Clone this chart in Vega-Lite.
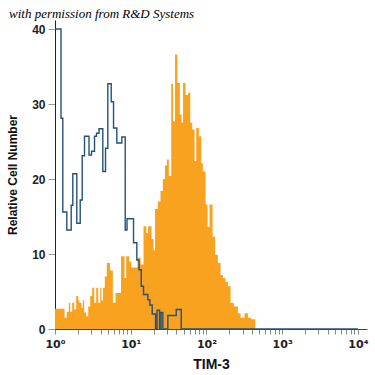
{
  "$schema": "https://vega.github.io/schema/vega-lite/v6.json",
  "width": 312,
  "height": 309,
  "autosize": {"type": "none"},
  "padding": {"left": 55, "top": 20, "right": 8, "bottom": 46},
  "title": {
    "text": "with permission from R&D Systems",
    "anchor": "start",
    "frame": "group",
    "dx": -46,
    "dy": 3,
    "offset": 2,
    "font": "Liberation Serif",
    "fontStyle": "italic",
    "fontWeight": "normal",
    "fontSize": 13,
    "color": "#000"
  },
  "config": {
    "view": {"stroke": null},
    "font": "Liberation Sans"
  },
  "datasets": {
    "tim3": [
      {"log_intensity": 0.0, "count": 2.7},
      {"log_intensity": 0.1255, "count": 1.5},
      {"log_intensity": 0.1559, "count": 2.3},
      {"log_intensity": 0.1823, "count": 3.5},
      {"log_intensity": 0.2008, "count": 2.3},
      {"log_intensity": 0.2272, "count": 3.5},
      {"log_intensity": 0.2536, "count": 2.6},
      {"log_intensity": 0.2801, "count": 4.4},
      {"log_intensity": 0.3065, "count": 3.8},
      {"log_intensity": 0.3236, "count": 3.5},
      {"log_intensity": 0.3501, "count": 2.8},
      {"log_intensity": 0.3672, "count": 3.8},
      {"log_intensity": 0.3857, "count": 2.2},
      {"log_intensity": 0.4122, "count": 1.7},
      {"log_intensity": 0.4386, "count": 3.0},
      {"log_intensity": 0.4650, "count": 4.4},
      {"log_intensity": 0.4914, "count": 5.5},
      {"log_intensity": 0.5178, "count": 3.5},
      {"log_intensity": 0.5443, "count": 5.5},
      {"log_intensity": 0.5707, "count": 3.5},
      {"log_intensity": 0.5971, "count": 5.5},
      {"log_intensity": 0.6143, "count": 3.8},
      {"log_intensity": 0.6341, "count": 5.5},
      {"log_intensity": 0.6579, "count": 7.0},
      {"log_intensity": 0.6843, "count": 8.8},
      {"log_intensity": 0.7266, "count": 7.8},
      {"log_intensity": 0.7636, "count": 3.5},
      {"log_intensity": 0.7992, "count": 4.8},
      {"log_intensity": 0.8719, "count": 9.7},
      {"log_intensity": 0.9181, "count": 6.8},
      {"log_intensity": 0.9406, "count": 9.7},
      {"log_intensity": 0.9776, "count": 9.0},
      {"log_intensity": 1.0040, "count": 8.2},
      {"log_intensity": 1.0898, "count": 9.5},
      {"log_intensity": 1.1295, "count": 8.6},
      {"log_intensity": 1.1691, "count": 13.7},
      {"log_intensity": 1.2048, "count": 12.8},
      {"log_intensity": 1.2285, "count": 13.7},
      {"log_intensity": 1.2748, "count": 12.0},
      {"log_intensity": 1.3012, "count": 10.5},
      {"log_intensity": 1.3210, "count": 16.0},
      {"log_intensity": 1.3580, "count": 17.0},
      {"log_intensity": 1.3937, "count": 18.4},
      {"log_intensity": 1.4241, "count": 20.0},
      {"log_intensity": 1.4531, "count": 21.8},
      {"log_intensity": 1.4769, "count": 22.6},
      {"log_intensity": 1.5033, "count": 20.4},
      {"log_intensity": 1.5350, "count": 32.7},
      {"log_intensity": 1.5588, "count": 27.7},
      {"log_intensity": 1.5852, "count": 36.6},
      {"log_intensity": 1.6156, "count": 32.8},
      {"log_intensity": 1.6486, "count": 28.6},
      {"log_intensity": 1.6711, "count": 27.5},
      {"log_intensity": 1.6909, "count": 32.8},
      {"log_intensity": 1.7239, "count": 31.2},
      {"log_intensity": 1.7569, "count": 31.5},
      {"log_intensity": 1.7860, "count": 27.5},
      {"log_intensity": 1.8124, "count": 26.6},
      {"log_intensity": 1.8428, "count": 22.4},
      {"log_intensity": 1.8653, "count": 26.8},
      {"log_intensity": 1.8996, "count": 25.7},
      {"log_intensity": 1.9313, "count": 22.1},
      {"log_intensity": 1.9524, "count": 21.0},
      {"log_intensity": 1.9881, "count": 16.6},
      {"log_intensity": 2.0145, "count": 13.6},
      {"log_intensity": 2.0409, "count": 16.6},
      {"log_intensity": 2.0806, "count": 12.3},
      {"log_intensity": 2.1136, "count": 9.9},
      {"log_intensity": 2.1506, "count": 8.8},
      {"log_intensity": 2.1863, "count": 7.2},
      {"log_intensity": 2.2166, "count": 6.8},
      {"log_intensity": 2.2484, "count": 6.3},
      {"log_intensity": 2.2827, "count": 5.7},
      {"log_intensity": 2.3184, "count": 3.5},
      {"log_intensity": 2.3620, "count": 3.0},
      {"log_intensity": 2.4148, "count": 2.1},
      {"log_intensity": 2.4505, "count": 1.5},
      {"log_intensity": 2.5033, "count": 2.1},
      {"log_intensity": 2.5469, "count": 1.5},
      {"log_intensity": 2.5918, "count": 1.3},
      {"log_intensity": 2.6446, "count": 0}
    ],
    "isotype": [
      {"log_intensity": 0.0, "count": 40},
      {"log_intensity": 0.0793, "count": 28.1},
      {"log_intensity": 0.1030, "count": 15.6},
      {"log_intensity": 0.1559, "count": 13.2},
      {"log_intensity": 0.2140, "count": 16.5},
      {"log_intensity": 0.2351, "count": 20.7},
      {"log_intensity": 0.2880, "count": 14.1},
      {"log_intensity": 0.3329, "count": 17.2},
      {"log_intensity": 0.3593, "count": 23.1},
      {"log_intensity": 0.3897, "count": 25.7},
      {"log_intensity": 0.4491, "count": 23.2},
      {"log_intensity": 0.4822, "count": 23.7},
      {"log_intensity": 0.5218, "count": 25.7},
      {"log_intensity": 0.5482, "count": 26.1},
      {"log_intensity": 0.5812, "count": 26.7},
      {"log_intensity": 0.6314, "count": 21.0},
      {"log_intensity": 0.6671, "count": 24.1},
      {"log_intensity": 0.6975, "count": 32.7},
      {"log_intensity": 0.7424, "count": 30.3},
      {"log_intensity": 0.7728, "count": 26.8},
      {"log_intensity": 0.8164, "count": 24.8},
      {"log_intensity": 0.8824, "count": 25.6},
      {"log_intensity": 0.9273, "count": 13.2},
      {"log_intensity": 0.9511, "count": 14.7},
      {"log_intensity": 1.0370, "count": 11.5},
      {"log_intensity": 1.0806, "count": 9.2},
      {"log_intensity": 1.1096, "count": 7.9},
      {"log_intensity": 1.1387, "count": 5.7},
      {"log_intensity": 1.1691, "count": 4.6},
      {"log_intensity": 1.2259, "count": 3.9},
      {"log_intensity": 1.2523, "count": 3.2},
      {"log_intensity": 1.2840, "count": 2.0},
      {"log_intensity": 1.3276, "count": 0},
      {"log_intensity": 1.3474, "count": 2.5},
      {"log_intensity": 1.3804, "count": 0},
      {"log_intensity": 1.4002, "count": 2.2},
      {"log_intensity": 1.4241, "count": 0},
      {"log_intensity": 1.4901, "count": 1.8},
      {"log_intensity": 1.6011, "count": 2.6},
      {"log_intensity": 1.6671, "count": 0},
      {"log_intensity": 4.0, "count": 0}
    ]
  },
  "encoding": {
    "x": {
      "field": "log_intensity",
      "type": "quantitative",
      "scale": {"domain": [0, 4.12], "nice": false, "zero": false},
      "axis": {
        "title": "TIM-3",
        "titleFont": "Liberation Sans",
        "titleFontSize": 14,
        "titleFontWeight": "bold",
        "titleColor": "#111",
        "titlePadding": 8,
        "values": [0, 0.301, 0.477, 0.602, 0.699, 0.778, 0.845, 0.903, 0.954,
                   1, 1.301, 1.477, 1.602, 1.699, 1.778, 1.845, 1.903, 1.954,
                   2, 2.301, 2.477, 2.602, 2.699, 2.778, 2.845, 2.903, 2.954,
                   3, 3.301, 3.477, 3.602, 3.699, 3.778, 3.845, 3.903, 3.954, 4],
        "labelExpr": "datum.value == 0 ? '10⁰' : datum.value == 1 ? '10¹' : datum.value == 2 ? '10²' : datum.value == 3 ? '10³' : datum.value == 4 ? '10⁴' : ''",
        "labelOverlap": false,
        "labelFlush": false,
        "labelFont": "DejaVu Sans",
        "labelFontSize": 11,
        "labelFontWeight": "bold",
        "labelColor": "#222",
        "labelPadding": 4,
        "tickSize": 5,
        "tickColor": "#888",
        "domainColor": "#444",
        "grid": false
      }
    },
    "y": {
      "field": "count",
      "type": "quantitative",
      "scale": {"domain": [0, 41.2], "nice": false},
      "axis": {
        "title": "Relative Cell Number",
        "titleFont": "Liberation Sans",
        "titleFontSize": 12,
        "titleFontWeight": "bold",
        "titleColor": "#111",
        "titlePadding": 12,
        "values": [0, 10, 20, 30, 40],
        "labelFontSize": 12,
        "labelFontWeight": "bold",
        "labelColor": "#222",
        "labelPadding": 3,
        "tickSize": 7,
        "tickColor": "#999",
        "domainColor": "#222",
        "grid": false
      }
    }
  },
  "layer": [
    {
      "data": {"name": "tim3"},
      "mark": {"type": "area", "interpolate": "step-after", "color": "#F8A21F"}
    },
    {
      "data": {"name": "isotype"},
      "mark": {"type": "line", "interpolate": "step-after", "color": "#25527A", "strokeWidth": 1.4}
    }
  ]
}
